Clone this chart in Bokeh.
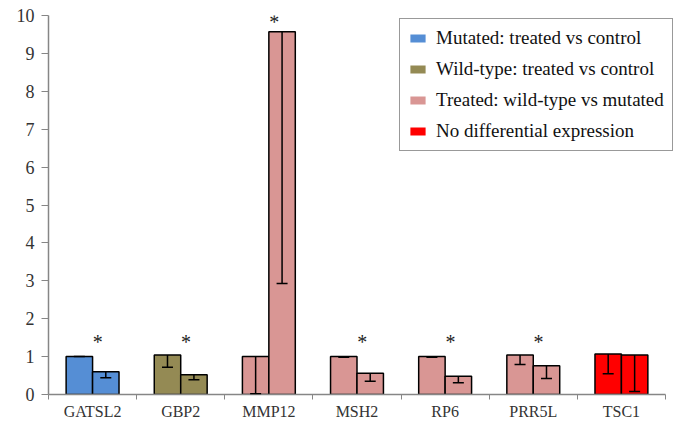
from bokeh.plotting import figure
from bokeh.models import (FixedTicker, Legend, LegendItem, Whisker, ColumnDataSource,
                          TeeHead, Range1d)
from bokeh.embed import file_html
from bokeh.resources import INLINE
from bokeh.core.properties import value

# ---- data ----
genes = ["GATSL2", "GBP2", "MMP12", "MSH2", "RP6", "PRR5L", "TSC1"]
first_vals = [1.00, 1.04, 1.00, 1.00, 1.00, 1.04, 1.07]
second_vals = [0.60, 0.52, 9.57, 0.56, 0.48, 0.76, 1.04]
first_err = [0.00, 0.32, 0.98, 0.02, 0.02, 0.25, 0.52]
second_err = [0.16, 0.13, 6.64, 0.21, 0.17, 0.34, 0.96]
gene_group = ["Mutated: treated vs control", "Wild-type: treated vs control",
              "Treated: wild-type vs mutated", "Treated: wild-type vs mutated",
              "Treated: wild-type vs mutated", "Treated: wild-type vs mutated",
              "No differential expression"]
star_marks = ["*", "*", "*", "*", "*", "*", ""]
star_y = [1.55, 1.55, 10.0, 1.55, 1.55, 1.55, 1.55]
legend_labels = ["Mutated: treated vs control", "Wild-type: treated vs control",
                 "Treated: wild-type vs mutated", "No differential expression"]
legend_colors = ["#558ED5", "#948A54", "#D99694", "#FF0000"]
y_ticks = list(range(0, 11))

color_of = dict(zip(legend_labels, legend_colors))
FONT = "Liberation Serif"
BW = 0.3
N = len(genes)
X_END = 7.159  # frame extends past the last category so the legend fits

idx = list(range(N))
centers = [i + 0.5 for i in idx]
x1 = [c - BW / 2 for c in centers]
x2 = [c + BW / 2 for c in centers]
cols = [color_of[g] for g in gene_group]

p = figure(width=679, height=427, output_backend="svg", toolbar_location=None,
           x_range=Range1d(0, X_END), y_range=Range1d(0, 10),
           min_border_left=48, min_border_right=0, min_border_top=15, min_border_bottom=33)
p.outline_line_color = None
p.xgrid.grid_line_color = None
p.ygrid.grid_line_color = None
p.background_fill_color = "white"
p.border_fill_color = "white"

src1 = ColumnDataSource(dict(x=x1, top=first_vals, c=cols,
                             upper=first_vals, lower=[v - e for v, e in zip(first_vals, first_err)]))
src2 = ColumnDataSource(dict(x=x2, top=second_vals, c=cols,
                             upper=second_vals, lower=[v - e for v, e in zip(second_vals, second_err)]))

for s in (src1, src2):
    p.vbar(x="x", top="top", width=BW, bottom=0, source=s, fill_color="c",
           line_color="black", line_width=1.5)
    p.add_layout(Whisker(source=s, base="x", upper="upper", lower="lower",
                         dimension="height", upper_head=None, level="overlay",
                         lower_head=TeeHead(size=11, line_color="black", line_width=1.5),
                         line_color="black", line_width=1.5))

# significance stars
star_src = ColumnDataSource(dict(x=[c + 0.06 for c in centers], y=star_y, t=star_marks))
p.text(x="x", y="y", text="t", source=star_src, text_font=value(FONT),
       text_font_size="20px", text_align="center", text_baseline="middle",
       text_color="#222222", y_offset=6)

# legend swatches (zero-height, outline-free copies of each group's bars)
items = []
for lab, col in zip(legend_labels, legend_colors):
    xs = [x for x, g in zip(x1, gene_group) if g == lab]
    r = p.vbar(x=xs, top=[0] * len(xs), bottom=[0] * len(xs), width=BW,
               fill_color=col, line_color=None)
    items.append(LegendItem(label=lab, renderers=[r]))
legend = Legend(items=items, location=(351, 243), orientation="vertical",
                label_text_font=FONT, label_text_font_size="19px",
                label_text_color="#111111", glyph_width=19, glyph_height=10,
                label_standoff=9, label_height=22, spacing=9, padding=8,
                margin=0, border_line_color="#333333", border_line_width=1.5,
                background_fill_alpha=1.0)
p.add_layout(legend, "center")

# axes
xa = p.xaxis[0]
xa.bounds = (0, N)
xa.ticker = FixedTicker(ticks=centers, minor_ticks=list(range(0, N + 1)))
xa.major_label_overrides = {c: g for c, g in zip(centers, genes)}
xa.major_tick_out = 0
xa.major_tick_in = 0
xa.minor_tick_out = 5
xa.minor_tick_in = 0
xa.minor_tick_line_color = "#868686"
xa.axis_line_color = "#868686"
xa.axis_line_width = 1.5
xa.major_label_text_font = FONT
xa.major_label_text_font_size = "16px"
xa.major_label_text_color = "#333333"
xa.major_label_standoff = 3

ya = p.yaxis[0]
ya.ticker = FixedTicker(ticks=y_ticks)
ya.major_tick_out = 7
ya.major_tick_in = 0
ya.minor_tick_out = 0
ya.minor_tick_in = 0
ya.major_tick_line_color = "#868686"
ya.axis_line_color = "#868686"
ya.axis_line_width = 1.5
ya.major_label_text_font = FONT
ya.major_label_text_font_size = "18px"
ya.major_label_text_color = "#333333"
ya.major_label_standoff = 7

open("out.html", "w").write(file_html(p, INLINE))
